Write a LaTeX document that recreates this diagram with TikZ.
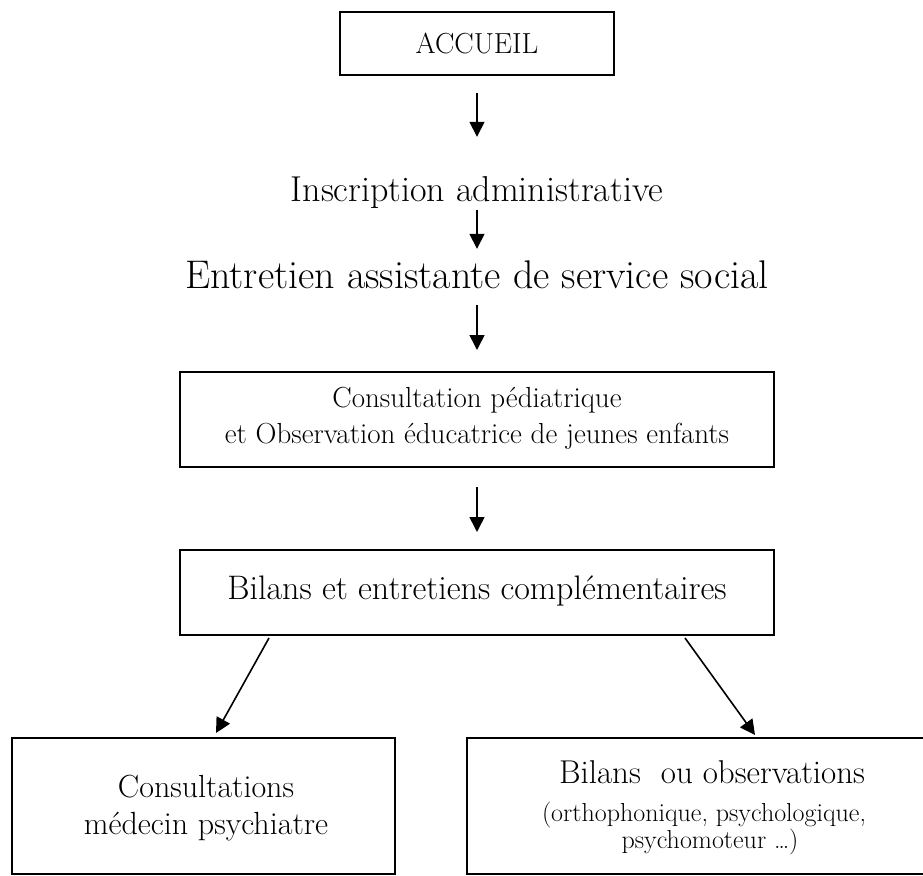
\documentclass[tikz,border=0pt]{standalone}
\usepackage{fontspec}
\usetikzlibrary{arrows.meta}
\newcommand\fsz[1]{\fontsize{#1pt}{#1pt}\selectfont}
\begin{document}
\begin{tikzpicture}[x=1pt,y=-1pt,
  boxnode/.style={draw,line width=2pt,outer sep=0pt,inner sep=0pt,rectangle},
  txt/.style={inner sep=0pt,anchor=base,text height=#1},
  txt/.default=26pt,
  arr/.style={line width=1.6pt,-{Triangle[length=15pt,width=15pt]}}]
\useasboundingbox (0,0) rectangle (923,875);
% top box
\node[boxnode,minimum width=274pt,minimum height=62.5pt,font=\fsz{29}] (acc) at (477,43.75) {ACCUEIL};
% free texts
\node[txt=25pt,text depth=9pt,font=\fsz{36}] (ins) at (477,201) {Inscription administrative};
\node[txt=27pt,text depth=9pt,font=\fsz{40}] (ent) at (477,288) {Entretien assistante de service social};
% box 2
\node[boxnode,minimum width=594pt,minimum height=95pt] (b2) at (477,419.5) {};
\node[txt=21pt,font=\fsz{29}] (b2a) at (477,407) {Consultation pédiatrique};
\node[txt=21pt,font=\fsz{29}] (b2b) at (477,443) {et Observation éducatrice de jeunes enfants};
% box 3
\node[boxnode,minimum width=594pt,minimum height=85pt] (b3) at (477,592.5) {};
\node[txt=23pt,font=\fsz{34}] (b3a) at (477,599) {Bilans et entretiens complémentaires};
% bottom boxes
\node[boxnode,minimum width=383pt,minimum height=136pt] (b4) at (203.5,806) {};
\node[txt=22pt,font=\fsz{32}] (b4a) at (206,797) {Consultations};
\node[txt=22pt,font=\fsz{32}] (b4b) at (206,834) {médecin psychiatre};
\node[boxnode,minimum width=486pt,minimum height=136pt] (b5) at (710,806) {};
\node[txt=23pt,font=\fsz{33}] (b5a) at (712,783) {Bilans\ \ ou observations};
\node[txt=18pt,text depth=5pt,font=\fsz{26}] (b5b) at (704,821) {(orthophonique, psychologique,};
\node[txt=18pt,font=\fsz{26}] (b5c) at (710,848) {psychomoteur …)};
% arrows
\draw[arr] ([yshift=-18pt]acc.south) -- ([yshift=39pt]ins.north);
\draw[arr] ([yshift=0pt]ins.south) -- ([yshift=12pt]ent.north);
\draw[arr] ([yshift=-8pt]ent.south) -- ([yshift=22pt]b2.north);
\draw[arr] ([yshift=-20pt]b2.south) -- ([yshift=18pt]b3.north);
\draw[arr] ([xshift=-208pt,yshift=-3pt]b3.south) -- ([xshift=12.5pt,yshift=5pt]b4.north);
\draw[arr] ([xshift=208pt,yshift=-3pt]b3.south) -- ([xshift=45pt,yshift=3pt]b5.north);
\end{tikzpicture}
\end{document}
